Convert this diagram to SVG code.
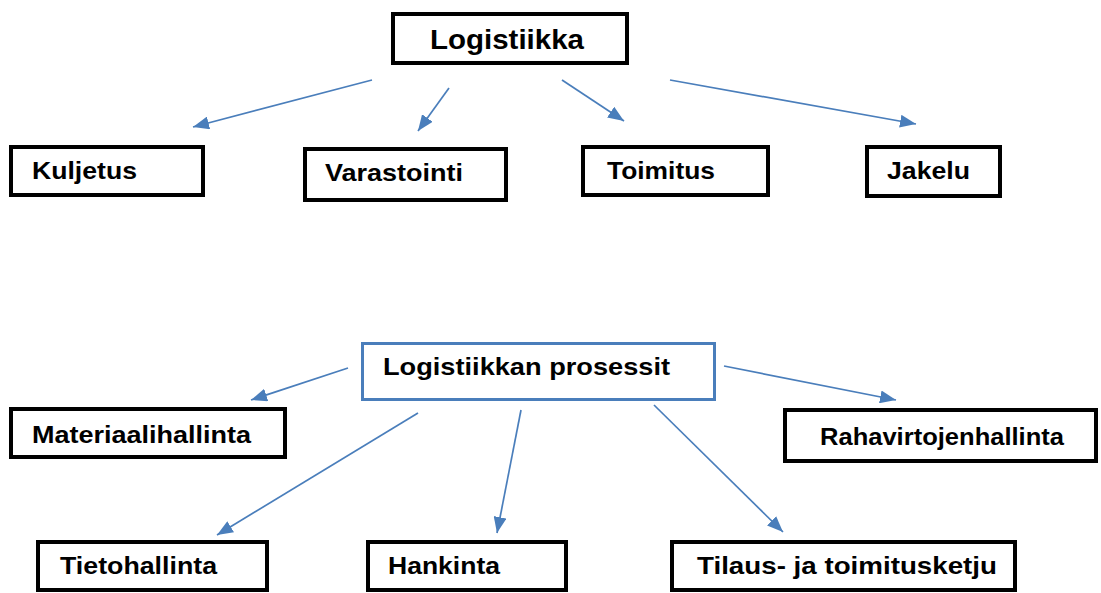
<svg xmlns="http://www.w3.org/2000/svg" width="1101" height="593" viewBox="0 0 1101 593">
<style>
.box{fill:#ffffff;stroke:#000000;stroke-width:4}
.bbox{fill:#ffffff;stroke:#4a7ebb;stroke-width:3}
.t{font-family:"Liberation Sans",Arial,sans-serif;font-weight:bold;font-size:24px;fill:#000000}
.title{font-size:28px}
.c{stroke:#4a7ebb;stroke-width:1.7;fill:none;marker-end:url(#ah)}
</style>
<defs>
<marker id="ah" viewBox="0 0 16 13" refX="16" refY="6.5" markerWidth="16" markerHeight="13" markerUnits="userSpaceOnUse" orient="auto">
<path d="M0,0 L16,6.5 L0,13 z" fill="#4a7ebb"/>
</marker>
</defs>
<rect width="1101" height="593" fill="#ffffff"/>
<g id="connectors">
<line class="c" x1="372" y1="80" x2="193" y2="127"/>
<line class="c" x1="449" y1="88" x2="418" y2="131"/>
<line class="c" x1="562" y1="80" x2="624" y2="121"/>
<line class="c" x1="670" y1="80" x2="916" y2="124"/>
<line class="c" x1="348" y1="368" x2="251" y2="400"/>
<line class="c" x1="724" y1="366" x2="896" y2="400"/>
<line class="c" x1="418" y1="413" x2="217" y2="535"/>
<line class="c" x1="521" y1="410" x2="497" y2="533"/>
<line class="c" x1="654" y1="405" x2="783" y2="532"/>
</g>
<g id="logistiikka">
<rect class="box" x="393" y="14" width="234" height="49"/>
<text class="t title" x="430" y="49" textLength="154" lengthAdjust="spacingAndGlyphs">Logistiikka</text>
</g>
<g id="kuljetus">
<rect class="box" x="11" y="147" width="192" height="48"/>
<text class="t" x="32" y="179" textLength="105" lengthAdjust="spacingAndGlyphs">Kuljetus</text>
</g>
<g id="varastointi">
<rect class="box" x="305" y="149" width="201" height="51"/>
<text class="t" x="325" y="181" textLength="138" lengthAdjust="spacingAndGlyphs">Varastointi</text>
</g>
<g id="toimitus">
<rect class="box" x="583" y="147" width="185" height="48"/>
<text class="t" x="607" y="179" textLength="108" lengthAdjust="spacingAndGlyphs">Toimitus</text>
</g>
<g id="jakelu">
<rect class="box" x="867" y="147" width="133" height="49"/>
<text class="t" x="887" y="179" textLength="83" lengthAdjust="spacingAndGlyphs">Jakelu</text>
</g>
<g id="prosessit">
<rect class="bbox" x="362.5" y="343.5" width="352" height="56"/>
<text class="t" x="383" y="375" textLength="287" lengthAdjust="spacingAndGlyphs">Logistiikkan prosessit</text>
</g>
<g id="materiaalihallinta">
<rect class="box" x="11" y="409" width="274" height="48"/>
<text class="t" x="32" y="443" textLength="219" lengthAdjust="spacingAndGlyphs">Materiaalihallinta</text>
</g>
<g id="rahavirtojenhallinta">
<rect class="box" x="785" y="410" width="311" height="51"/>
<text class="t" x="820" y="445" textLength="244" lengthAdjust="spacingAndGlyphs">Rahavirtojenhallinta</text>
</g>
<g id="tietohallinta">
<rect class="box" x="38" y="542" width="229" height="48"/>
<text class="t" x="60" y="574" textLength="157" lengthAdjust="spacingAndGlyphs">Tietohallinta</text>
</g>
<g id="hankinta">
<rect class="box" x="368" y="542" width="198" height="48"/>
<text class="t" x="388" y="574" textLength="112" lengthAdjust="spacingAndGlyphs">Hankinta</text>
</g>
<g id="tilaus">
<rect class="box" x="672" y="542" width="343" height="48"/>
<text class="t" x="697" y="574" textLength="300" lengthAdjust="spacingAndGlyphs">Tilaus- ja toimitusketju</text>
</g>
</svg>
